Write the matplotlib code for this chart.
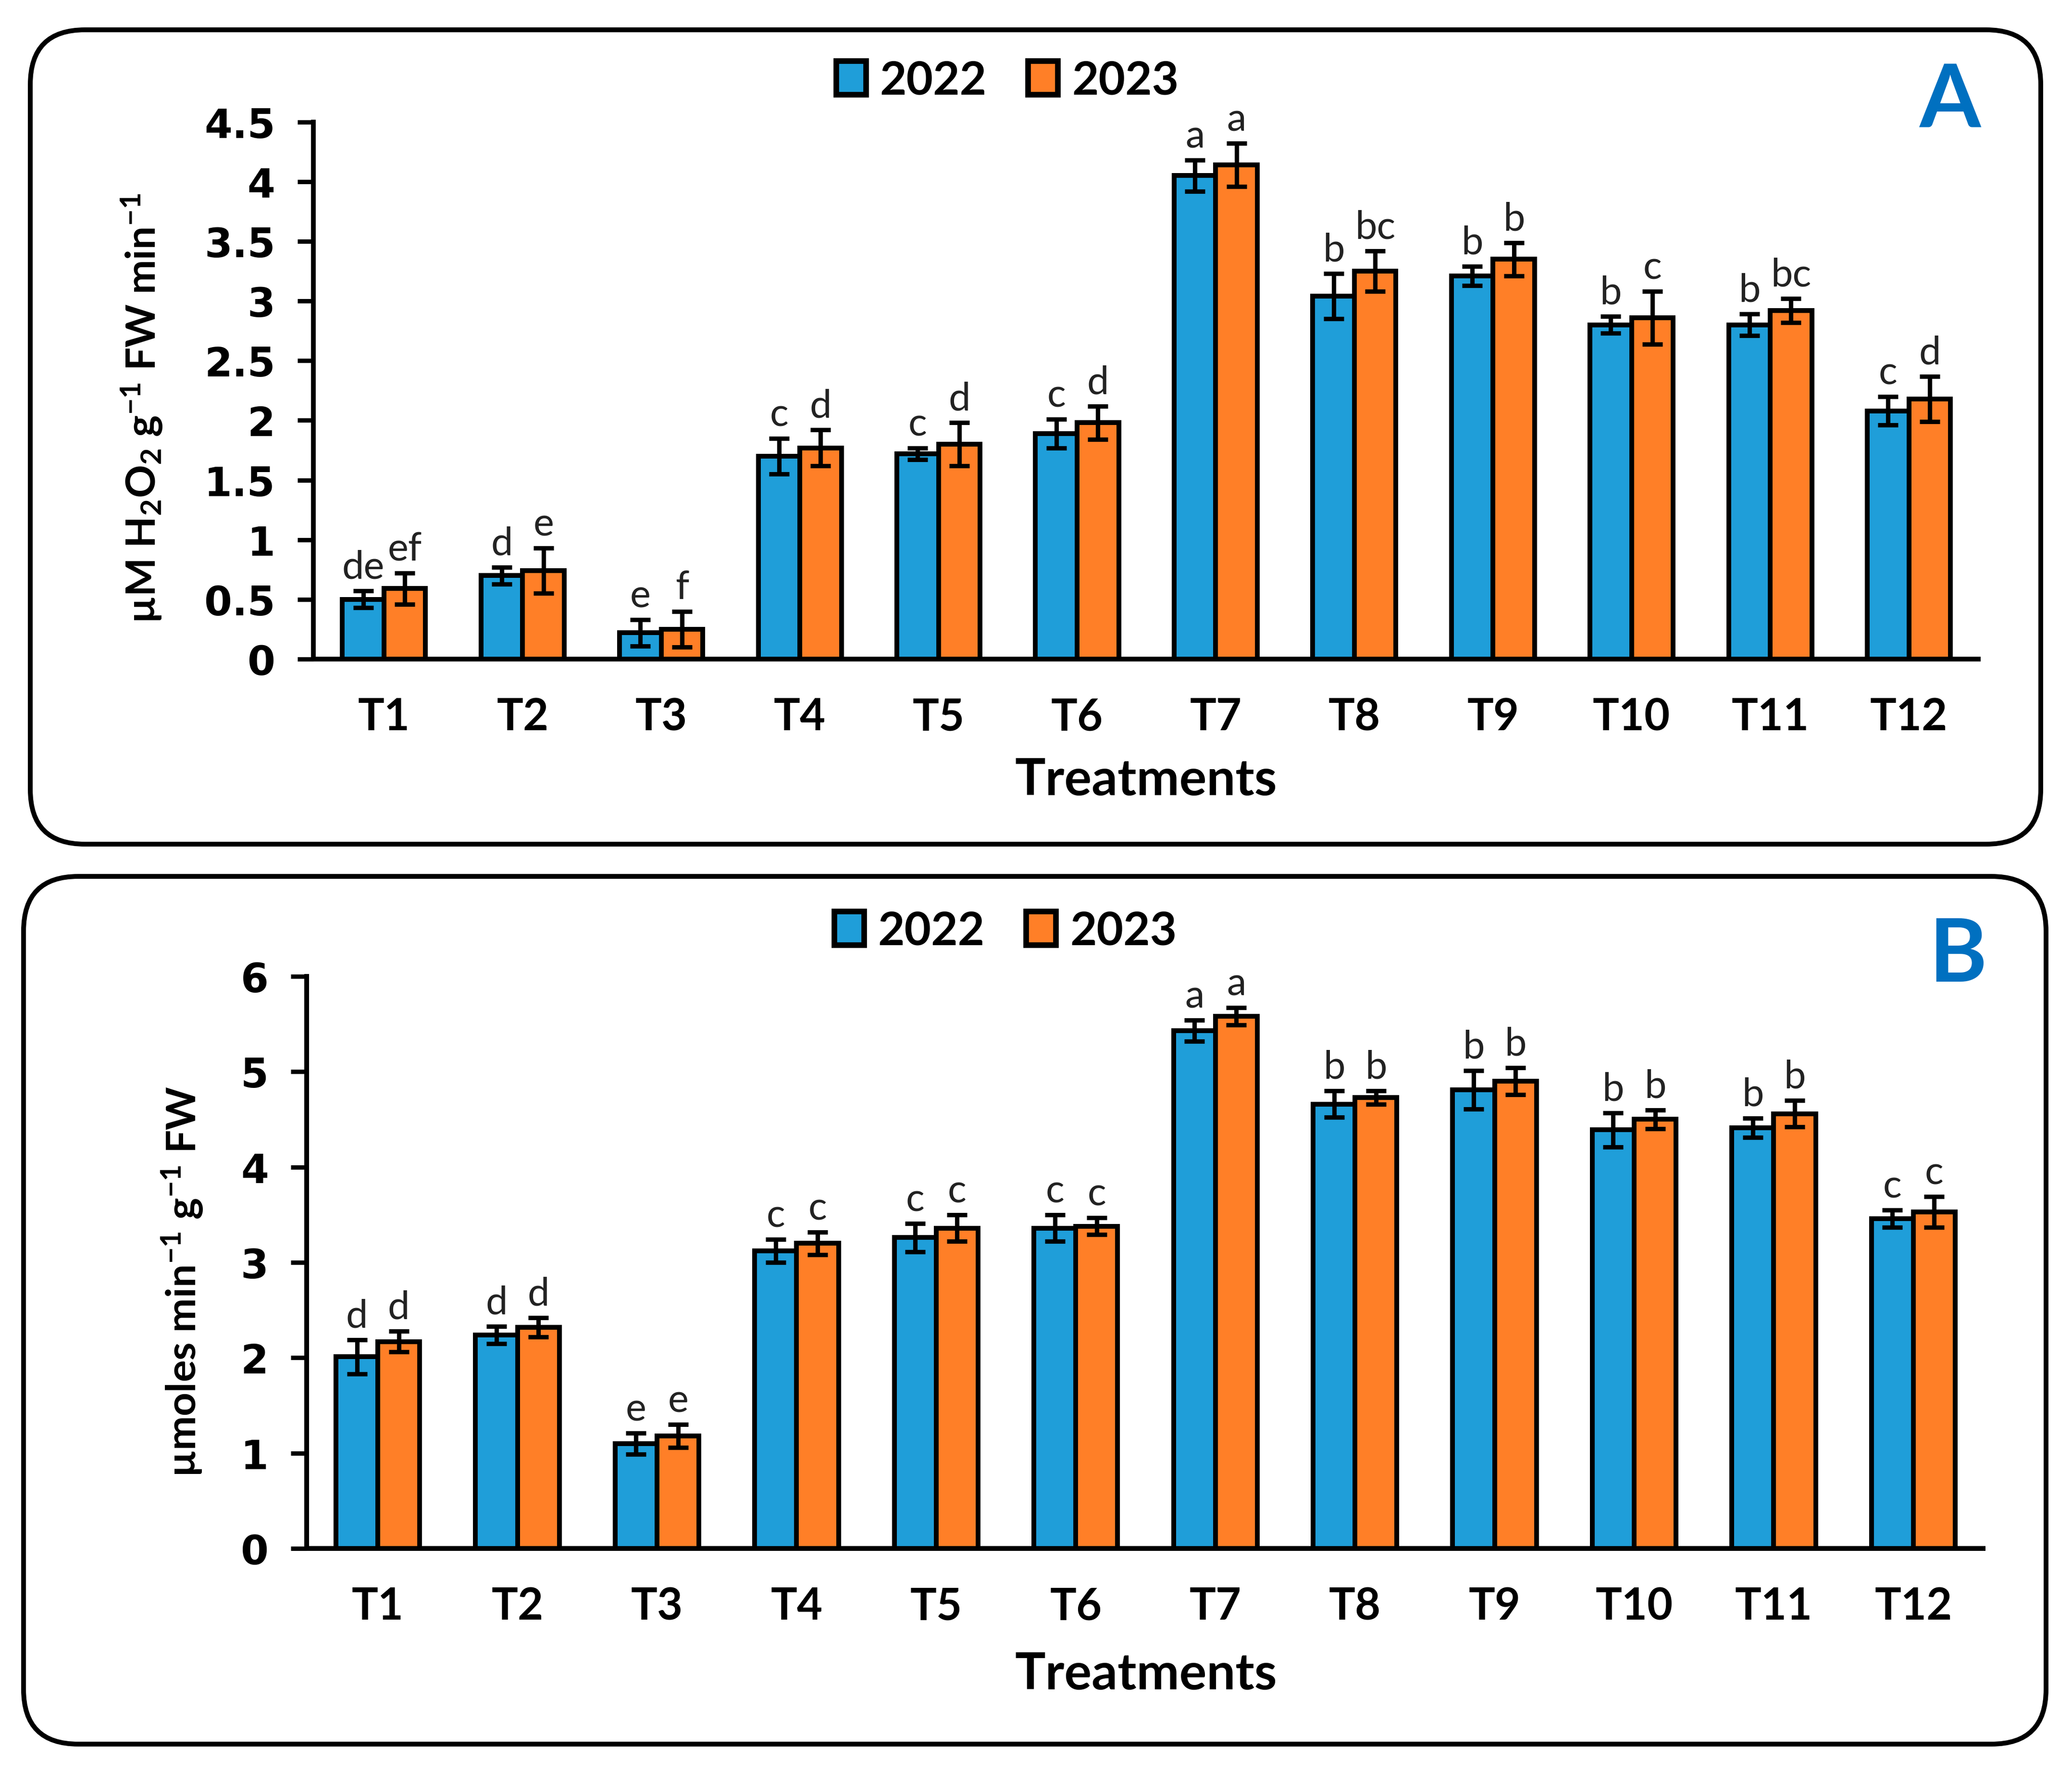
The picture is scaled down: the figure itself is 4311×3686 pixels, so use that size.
import numpy as np
import matplotlib
matplotlib.use('Agg')
import matplotlib.pyplot as plt
from matplotlib.patches import FancyBboxPatch, Patch

plt.rcParams['font.family'] = ['Lato', 'DejaVu Sans']
plt.rcParams['mathtext.fontset'] = 'custom'
plt.rcParams['mathtext.rm'] = 'Lato'
plt.rcParams['mathtext.bf'] = 'Lato:bold'
plt.rcParams['mathtext.it'] = 'Lato:italic'

treatments = ['T1', 'T2', 'T3', 'T4', 'T5', 'T6', 'T7', 'T8', 'T9', 'T10', 'T11', 'T12']
years = ['2022', '2023']

# panel A: H2O2
a_2022 = [0.50, 0.70, 0.22, 1.70, 1.72, 1.89, 4.05, 3.04, 3.21, 2.80, 2.80, 2.08]
a_2023 = [0.59, 0.74, 0.25, 1.77, 1.80, 1.98, 4.14, 3.25, 3.35, 2.86, 2.92, 2.18]
a_err_2022 = [0.07, 0.07, 0.11, 0.15, 0.05, 0.12, 0.13, 0.19, 0.08, 0.07, 0.09, 0.12]
a_err_2023 = [0.13, 0.19, 0.15, 0.15, 0.18, 0.14, 0.18, 0.17, 0.14, 0.22, 0.10, 0.19]
a_let_2022 = ['de', 'd', 'e', 'c', 'c', 'c', 'a', 'b', 'b', 'b', 'b', 'c']
a_let_2023 = ['ef', 'e', 'f', 'd', 'd', 'd', 'a', 'bc', 'b', 'c', 'bc', 'd']

# panel B
b_2022 = [2.01, 2.24, 1.10, 3.12, 3.26, 3.36, 5.43, 4.66, 4.81, 4.39, 4.41, 3.46]
b_2023 = [2.17, 2.32, 1.18, 3.20, 3.36, 3.38, 5.58, 4.73, 4.90, 4.50, 4.56, 3.53]
b_err_2022 = [0.18, 0.09, 0.11, 0.12, 0.15, 0.14, 0.11, 0.14, 0.20, 0.18, 0.10, 0.09]
b_err_2023 = [0.11, 0.10, 0.12, 0.12, 0.14, 0.09, 0.09, 0.07, 0.14, 0.10, 0.14, 0.16]
b_let_2022 = ['d', 'd', 'e', 'c', 'c', 'c', 'a', 'b', 'b', 'b', 'b', 'c']
b_let_2023 = ['d', 'd', 'e', 'c', 'c', 'c', 'a', 'b', 'b', 'b', 'b', 'c']

blue = '#1F9ED9'
orange = '#FF7F27'
W, H = 4311, 3687
fig = plt.figure(figsize=(W / 300, H / 300), dpi=300)

# rounded frames (pixel boxes converted to inches)
for (x0, y0, x1, y1) in [(63, 63, 4246, 1757), (49, 1824, 4257, 3629)]:
    box = FancyBboxPatch((x0 / 300, (H - y1) / 300), (x1 - x0) / 300, (y1 - y0) / 300,
                         boxstyle='round,pad=0,rounding_size=0.38',
                         transform=fig.dpi_scale_trans, fill=False, ec='black', lw=2.4)
    fig.add_artist(box)


def panel(rect, v1, v2, e1, e2, l1, l2, ymax, ystep, ylabel, ylab_xy, leg_xy, lab_xy, tag, tag_xy):
    ax = fig.add_axes(rect)
    x = np.arange(len(treatments))
    w = 0.3
    for xs, vals, errs, col, lets in [(x - w / 2, v1, e1, blue, l1), (x + w / 2, v2, e2, orange, l2)]:
        ax.bar(xs, vals, w, color=col, edgecolor='black', linewidth=2.4, zorder=2)
        ax.errorbar(xs, vals, yerr=errs, fmt='none', ecolor='black', elinewidth=2.2,
                    capsize=5, capthick=2.2, zorder=3)
        for xi, v, e, t in zip(xs, vals, errs, lets):
            ax.annotate(t, (xi, v + e), xytext=(0, 3), textcoords='offset points',
                        ha='center', va='bottom', fontsize=19.5, color='#222222')
    ax.set_xlim(-0.51, 11.5)
    ax.set_ylim(0, ymax)
    ticks = np.arange(0, ymax + 1e-9, ystep)
    ax.set_yticks(ticks)
    ax.set_yticklabels([f'{t:g}' for t in ticks], fontfamily='DejaVu Sans',
                       fontweight='bold', fontsize=20)
    ax.set_xticks(x)
    ax.set_xticklabels(treatments, fontweight='bold', fontsize=22)
    ax.tick_params(axis='x', length=0, pad=19)
    ax.tick_params(axis='y', direction='out', length=8, width=2.2, pad=11)
    for s in ['top', 'right']:
        ax.spines[s].set_visible(False)
    for s in ['left', 'bottom']:
        ax.spines[s].set_linewidth(2.4)
    fig.text(ylab_xy[0], ylab_xy[1], ylabel, rotation=90, ha='center', va='center',
             fontsize=20.5, fontweight='bold')
    fig.text(lab_xy[0], lab_xy[1], 'Treatments', ha='center', va='center',
             fontsize=25.5, fontweight='bold')
    handles = [Patch(facecolor=blue, edgecolor='black', linewidth=2.8),
               Patch(facecolor=orange, edgecolor='black', linewidth=2.8)]
    fig.legend(handles, years, loc='center', bbox_to_anchor=leg_xy, ncol=2, frameon=False,
               handlelength=0.65, handleheight=0.75, handletextpad=0.3, columnspacing=0.9,
               prop={'weight': 'bold', 'size': 23})
    fig.text(tag_xy[0], tag_xy[1], tag, ha='center', va='center', fontsize=44,
             fontweight='bold', color='#0070C0')
    return ax


panel([0.1512, 0.6279, 0.8035, 0.3030], a_2022, a_2023, a_err_2022, a_err_2023,
      a_let_2022, a_let_2023, 4.5, 0.5,
      r'µM H$_\mathbf{2}$O$_\mathbf{2}$ g$^{\mathregular{-1}}$ FW min$^{\mathregular{-1}}$',
      (0.0684, 0.7695), (0.4862, 0.9542), (0.553, 0.5595), 'A', (0.9409, 0.9425))

panel([0.1480, 0.1261, 0.8091, 0.3228], b_2022, b_2023, b_err_2022, b_err_2023,
      b_let_2022, b_let_2023, 6, 1,
      r'µmoles min$^{\mathregular{-1}}$ g$^{\mathregular{-1}}$ FW',
      (0.0879, 0.2769), (0.4853, 0.4744), (0.553, 0.0551), 'B', (0.9450, 0.4603))

fig.savefig('out.png', dpi=300)
